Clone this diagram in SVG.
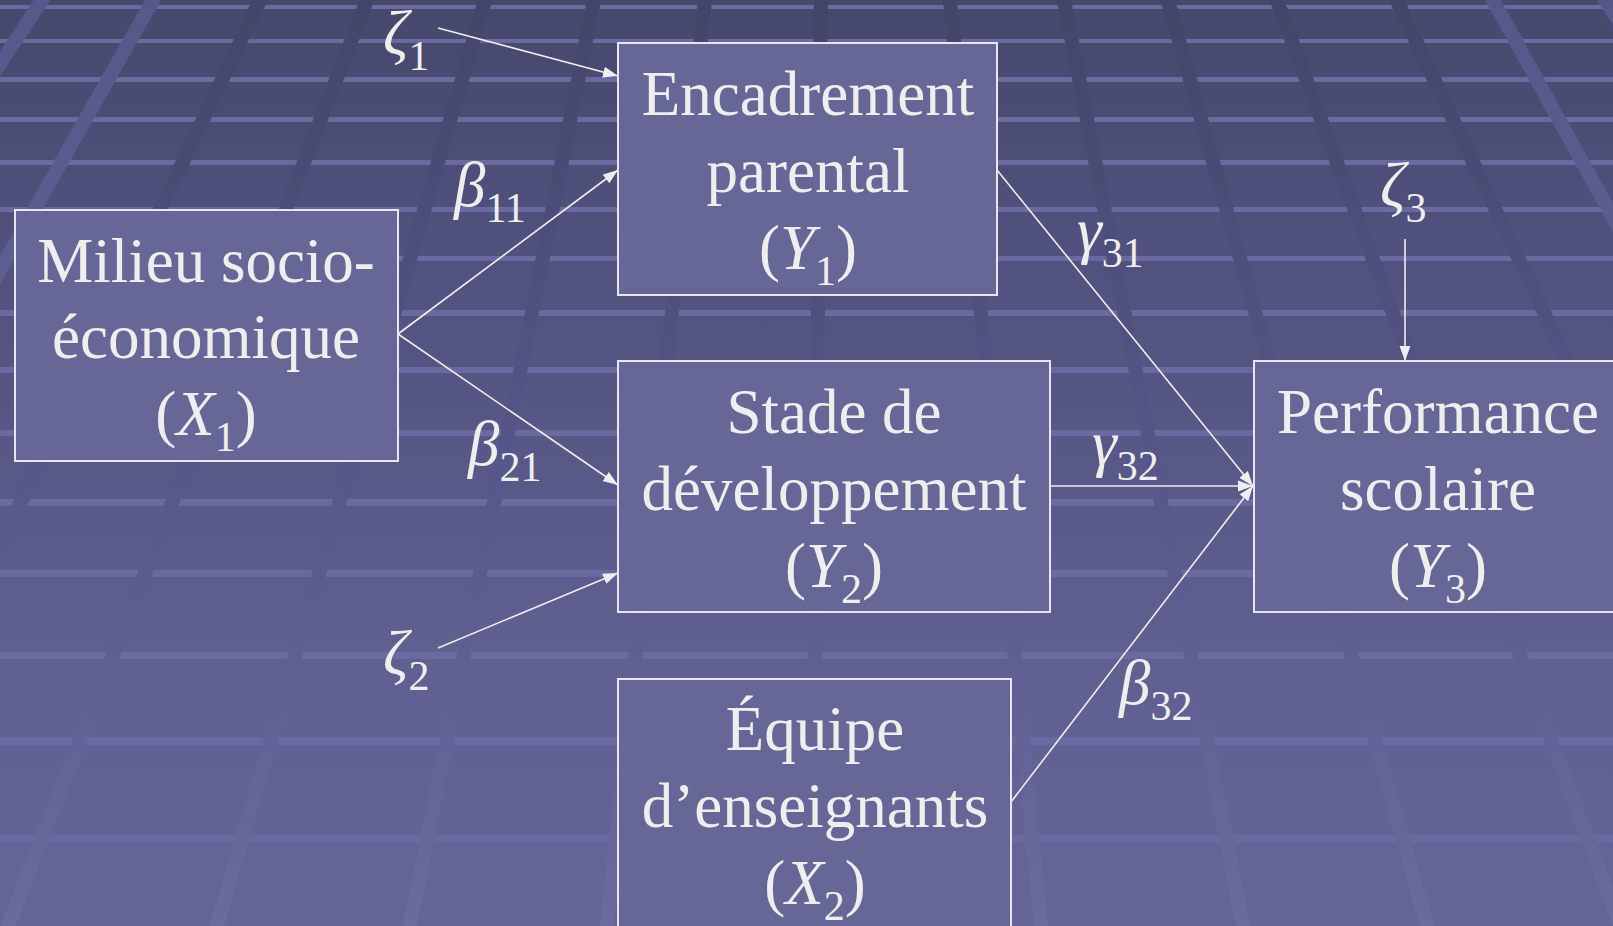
<svg xmlns="http://www.w3.org/2000/svg" width="1613" height="926" viewBox="0 0 1613 926">
<defs>
<linearGradient id="bg" x1="0" y1="0" x2="0" y2="926" gradientUnits="userSpaceOnUse">
<stop offset="0" stop-color="#46486c"/>
<stop offset="0.3" stop-color="#525280"/>
<stop offset="0.7" stop-color="#5f5f90"/>
<stop offset="1" stop-color="#65659a"/>
</linearGradient>
<linearGradient id="sd" x1="0" y1="0" x2="0" y2="926" gradientUnits="userSpaceOnUse">
<stop offset="0" stop-color="#434568"/>
<stop offset="0.5" stop-color="#56568a"/>
<stop offset="1" stop-color="#6b6ba0"/>
</linearGradient>
<linearGradient id="sl" x1="0" y1="0" x2="0" y2="926" gradientUnits="userSpaceOnUse">
<stop offset="0" stop-color="#56588a"/>
<stop offset="1" stop-color="#6d6da2"/>
</linearGradient>
<marker id="ah" markerUnits="userSpaceOnUse" markerWidth="16" markerHeight="12" refX="15" refY="6" orient="auto">
<path d="M0,0.5 L15,6 L0,11.5 z" fill="#eeeeee"/>
</marker>
<style>
.box{fill:#676797;stroke:#e6e6ee;stroke-width:2}
.t{font-family:"Liberation Serif","Times New Roman",serif;font-size:63px;fill:#eeeeee;text-anchor:middle}
.g{font-family:"Liberation Serif","Times New Roman",serif;font-size:63px;fill:#eeeeee}
.i{font-style:italic}
.sub{font-size:42px;font-style:normal}
.c{stroke:#eeeeee;stroke-width:1.6;fill:none;marker-end:url(#ah)}
.bar{fill:#6a6aa0}
.s{stroke-width:14;fill:none}
</style>
</defs>
<g id="background">
<rect x="0" y="0" width="1613" height="926" fill="url(#bg)"/>
<rect class="bar" x="0" y="5" width="1613" height="4"/>
<rect class="bar" x="0" y="39" width="1613" height="4"/>
<rect class="bar" x="0" y="77" width="1613" height="5"/>
<rect class="bar" x="0" y="117" width="1613" height="5"/>
<rect class="bar" x="0" y="160" width="1613" height="5"/>
<rect class="bar" x="0" y="207" width="1613" height="5"/>
<rect class="bar" x="0" y="256" width="1613" height="5"/>
<rect class="bar" x="0" y="310" width="1613" height="6"/>
<rect class="bar" x="0" y="367" width="1613" height="6"/>
<rect class="bar" x="0" y="430" width="1613" height="6"/>
<rect class="bar" x="0" y="499" width="1613" height="7"/>
<rect class="bar" x="0" y="570" width="1613" height="7"/>
<rect class="bar" x="0" y="652" width="1613" height="7"/>
<rect class="bar" x="0" y="737" width="1613" height="8"/>
<rect class="bar" x="0" y="835" width="1613" height="8"/>
<g class="s" stroke="url(#sl)">
<line x1="48.6" y1="-10" x2="-574" y2="936"/>
<line x1="158.7" y1="-10" x2="-377" y2="936"/>
<line x1="1487.5" y1="-10" x2="2009" y2="936"/>
<line x1="1598.6" y1="-10" x2="2208" y2="936"/>
</g>
<g class="s" stroke="url(#sd)">
<line x1="264.8" y1="-10" x2="-186" y2="936"/>
<line x1="370.9" y1="-10" x2="4" y2="936"/>
<line x1="487.9" y1="-10" x2="214" y2="936"/>
<line x1="596" y1="-10" x2="408" y2="936"/>
<line x1="706" y1="-10" x2="606" y2="936"/>
<line x1="821" y1="-10" x2="812" y2="936"/>
<line x1="949" y1="-10" x2="1042" y2="936"/>
<line x1="1062" y1="-10" x2="1245" y2="936"/>
<line x1="1165" y1="-10" x2="1430" y2="936"/>
<line x1="1273" y1="-10" x2="1624" y2="936"/>
<line x1="1392" y1="-10" x2="1838" y2="936"/>
</g>
</g>
<g id="connectors">
<line class="c" x1="438" y1="28" x2="618" y2="76"/>
<line class="c" x1="398" y1="334" x2="618" y2="170"/>
<line class="c" x1="398" y1="334" x2="618" y2="485"/>
<line class="c" x1="438" y1="648" x2="618" y2="573"/>
<line class="c" x1="997" y1="170" x2="1253" y2="486"/>
<line class="c" x1="1050" y1="486" x2="1253" y2="486"/>
<line class="c" x1="1011" y1="802" x2="1253" y2="486"/>
<line class="c" x1="1405" y1="239" x2="1405" y2="361"/>
</g>
<g id="labels">
<text class="g" x="383" y="54"><tspan class="i">ζ</tspan><tspan class="sub" dy="16">1</tspan></text>
<text class="g" x="454" y="206"><tspan class="i">β</tspan><tspan class="sub" dy="16">11</tspan></text>
<text class="g" x="468" y="465"><tspan class="i">β</tspan><tspan class="sub" dy="16">21</tspan></text>
<text class="g" x="383" y="674"><tspan class="i">ζ</tspan><tspan class="sub" dy="16">2</tspan></text>
<text class="g" x="1077" y="251"><tspan class="i">γ</tspan><tspan class="sub" dy="16">31</tspan></text>
<text class="g" x="1092" y="464"><tspan class="i">γ</tspan><tspan class="sub" dy="16">32</tspan></text>
<text class="g" x="1380" y="206"><tspan class="i">ζ</tspan><tspan class="sub" dy="16">3</tspan></text>
<text class="g" x="1119" y="704"><tspan class="i">β</tspan><tspan class="sub" dy="16">32</tspan></text>
</g>
<g id="node-x1">
<rect class="box" x="15" y="210" width="383" height="251"/>
<text class="t" x="206" y="282">Milieu socio-</text>
<text class="t" x="206" y="358">économique</text>
<text class="t" x="206" y="435">(<tspan class="i">X</tspan><tspan class="sub" dy="16">1</tspan><tspan dy="-16">)</tspan></text>
</g>
<g id="node-y1">
<rect class="box" x="618" y="43" width="379" height="252"/>
<text class="t" x="808" y="115">Encadrement</text>
<text class="t" x="808" y="192">parental</text>
<text class="t" x="808" y="269">(<tspan class="i">Y</tspan><tspan class="sub" dy="16">1</tspan><tspan dy="-16">)</tspan></text>
</g>
<g id="node-y2">
<rect class="box" x="618" y="361" width="432" height="251"/>
<text class="t" x="834" y="433">Stade de</text>
<text class="t" x="834" y="510">développement</text>
<text class="t" x="834" y="587">(<tspan class="i">Y</tspan><tspan class="sub" dy="16">2</tspan><tspan dy="-16">)</tspan></text>
</g>
<g id="node-x2">
<rect class="box" x="618" y="679" width="393" height="262"/>
<text class="t" x="815" y="750">Équipe</text>
<text class="t" x="815" y="827">d’enseignants</text>
<text class="t" x="815" y="904">(<tspan class="i">X</tspan><tspan class="sub" dy="16">2</tspan><tspan dy="-16">)</tspan></text>
</g>
<g id="node-y3">
<rect class="box" x="1254" y="361" width="370" height="251"/>
<text class="t" x="1438" y="433">Performance</text>
<text class="t" x="1438" y="510">scolaire</text>
<text class="t" x="1438" y="587">(<tspan class="i">Y</tspan><tspan class="sub" dy="16">3</tspan><tspan dy="-16">)</tspan></text>
</g>
</svg>
